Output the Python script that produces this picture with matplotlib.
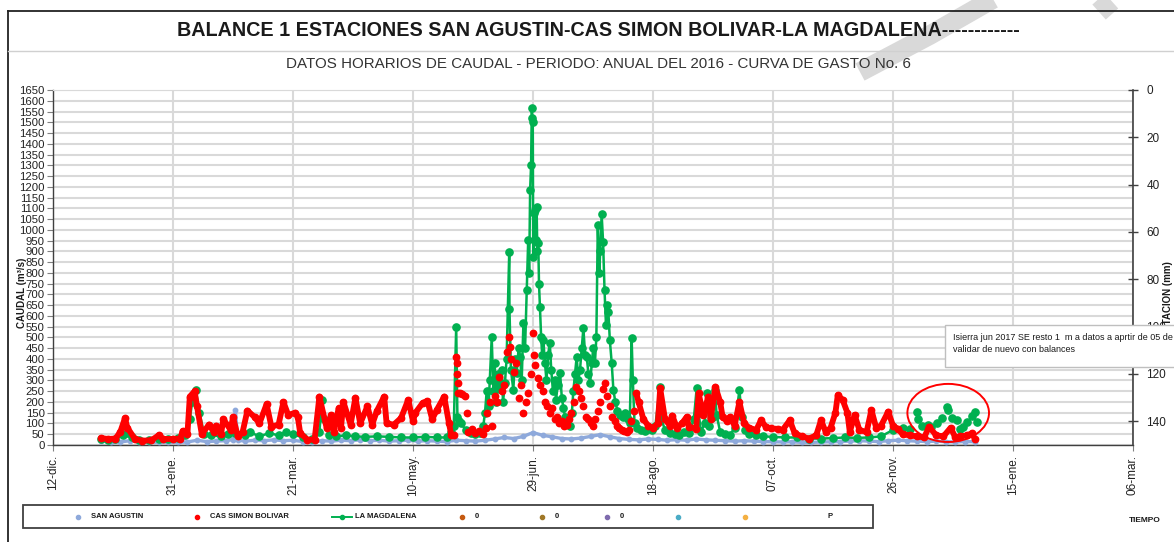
import datetime as dt

import numpy as np
import matplotlib
matplotlib.use("Agg")
import matplotlib.pyplot as plt
import matplotlib.dates as mdates
from matplotlib.lines import Line2D
from matplotlib.patches import Ellipse, Rectangle

plt.rcParams["font.family"] = ["Liberation Sans Narrow", "Liberation Sans", "DejaVu Sans"]

W, H = 1174, 542

# ---- data (day of year 2016, caudal m3/s) ----
san_agustin_day = [0, 4, 8, 12, 16, 20, 24, 28, 32, 36, 40, 44, 48, 52, 55, 56, 57, 60, 64, 68,
                   72, 76, 80, 84, 88, 92, 96, 100, 104, 108, 112, 116, 120, 124, 128, 132, 136,
                   140, 144, 148, 152, 156, 160, 164, 168, 172, 176, 180, 184, 188, 192, 196, 200,
                   204, 208, 212, 216, 220, 224, 228, 232, 236, 240, 244, 248, 252, 256, 260, 264,
                   268, 272, 276, 280, 284, 288, 292, 296, 300, 304, 308, 312, 316, 320, 324, 328,
                   332, 336, 340, 344, 348, 352, 356, 360, 364]
san_agustin_q = [18, 15, 14, 20, 14, 12, 13, 12, 12, 14, 22, 16, 18, 20, 25, 163, 22, 18, 22, 20,
                 24, 20, 22, 16, 14, 20, 18, 22, 20, 24, 20, 22, 18, 20, 22, 18, 20,
                 18, 16, 22, 20, 18, 22, 28, 35, 30, 40, 58, 45, 38, 30, 28, 32,
                 40, 48, 38, 30, 26, 24, 28, 26, 22, 25, 22, 28, 24, 22, 20, 18,
                 20, 18, 16, 15, 14, 15, 12, 12, 14, 15, 16, 18, 20, 18, 16, 20,
                 22, 20, 18, 16, 18, 15, 14, 16, 15]

bolivar_day = [0, 3, 6, 8, 10, 11, 14, 17, 21, 24, 26, 30, 33, 34, 36, 37, 39, 40, 42, 45, 47,
               48, 50, 51, 54, 55, 57, 59, 61, 64, 66, 69, 71, 74, 76, 78, 81, 82, 83, 86, 89,
               91, 94, 96, 97, 99, 100, 101, 104, 106, 108, 111, 113, 115, 118, 119, 122, 125,
               128, 130, 131, 134, 136, 138, 140, 143, 145, 146,
               147, 148.0, 148.2, 148.4, 148.6, 148.8, 149.5, 150.5, 151.5, 152.5, 153, 154.5,
               156, 157.5, 159, 160.5, 161, 162, 163, 164, 165, 166, 167, 168, 169, 170, 170.5,
               171, 172, 173, 174, 175, 176, 177, 178, 179, 180, 180.5, 181, 182, 183, 184,
               185, 186, 187, 188, 189, 190, 191, 192, 193, 194, 195, 196, 197, 198, 199, 200,
               201, 202, 203, 204, 205, 206, 207, 208, 209, 210, 211, 212, 213, 214, 215, 216,
               217, 218, 219, 220, 221, 222,
               223, 224, 226, 228, 230, 232, 233, 235, 237, 238, 240, 242, 244, 245, 248, 249,
               251, 253, 254, 256, 258, 259, 261, 262, 264, 266, 268, 270, 273, 275, 277, 279,
               282, 284, 287, 289, 292, 295, 298, 300, 302, 304, 306, 307, 309, 311, 312, 314,
               316, 319, 321, 323, 325, 328, 330, 332, 334, 337, 340, 343, 345, 348, 351, 354,
               356, 358, 361, 363, 364]
bolivar_q = [32, 28, 30, 60, 125, 80, 30, 20, 22, 45, 28, 28, 30, 65, 50, 225, 250, 180, 50, 95, 60,
             90, 50, 120, 70, 130, 40, 60, 160, 130, 100, 190, 85, 95, 200, 140, 150, 130, 55, 25, 25,
             225, 80, 140, 60, 170, 80, 200, 95, 220, 100, 180, 95, 160, 225, 100, 95, 125,
             210, 110, 150, 195, 205, 120, 165, 225, 100, 45,
             45, 410, 380, 330, 290, 240, 240, 235, 230, 150, 60, 75,
             55, 65, 50, 80, 150, 200, 90, 230, 200, 317, 250, 280, 430, 503, 455,
             400, 340, 380, 220, 280, 150, 200, 240, 330, 520, 420, 370, 310, 280, 250,
             200, 180, 150, 170, 120, 130, 100, 110, 90, 95, 120, 150, 200, 270, 250, 220,
             180, 130, 120, 100, 90, 120, 160, 200, 260, 290, 230, 180, 130, 110, 90, 80,
             70, 65, 60, 70, 110, 160,
             240, 200, 120, 90, 80, 100, 263, 120, 90, 137, 80, 100, 130, 85, 75, 240,
             140, 225, 120, 271, 200, 130, 110, 130, 90, 200, 100, 80, 70, 115, 85, 77,
             75, 70, 115, 55, 40, 30, 45, 115, 60, 80, 150, 232, 210, 150, 60, 140,
             70, 60, 163, 80, 90, 155, 90, 75, 50, 45, 40, 35, 85, 45, 40, 80,
             35, 40, 45, 55, 30]

magdalena_day = [0, 3, 6, 9, 11, 13, 16, 20, 24, 28, 32, 35, 37, 38, 39.5, 41, 43, 46, 50, 53, 56,
                 60, 62, 66, 70, 74, 77, 80, 84, 88, 91, 92, 93, 95, 98, 102, 106, 110, 115, 120,
                 125, 130, 135, 140, 144, 146,
                 147, 148, 148.5, 149, 150, 152, 154, 156, 158, 159.3, 160, 160.7, 161.5, 162,
                 162.8, 163.5, 164, 164.7, 165.5, 166, 167, 167.5, 168.3, 169, 170.1, 170.2, 170.8,
                 171.8, 172.5, 173.2, 174, 174.6, 175.3, 176, 176.7, 177.4, 178, 178.4, 178.8,
                 179.2, 179.5, 179.7, 179.9, 180.1, 180.4, 180.8, 181.1, 181.5, 181.8, 182.2,
                 182.5, 182.9, 183.4, 183.8, 184.3, 185, 185.6, 186.3, 187, 187.6, 188.3, 189,
                 189.6, 190.3, 191.3, 192, 192.7, 193.4, 194, 194.7, 195.5, 196.2, 196.8, 197.5,
                 198.2, 198.9, 199.6, 200.3, 201, 201.7, 202.4, 203.1, 203.8, 204.5, 205.1, 205.8,
                 206.4, 207, 207.6, 208, 208.6, 209.2, 209.8, 210.4, 211, 211.4, 212, 212.8,
                 213.5, 214.3, 215.2, 216.3, 217.5, 218.5, 219.5, 220.3, 221.1, 221.6, 222.3,
                 223.5, 225, 226.5, 228, 229.5, 231, 232.9, 233.5, 235, 237, 239, 241, 243, 245,
                 247, 248.2, 249, 250, 251.5, 252.5, 253.5, 255, 255.8, 256.5, 258, 260, 262, 264,
                 266, 267, 268.5, 270, 273, 276, 280, 285, 290, 295, 300, 305, 310, 315, 320, 325,
                 330,
                 334, 337, 340, 340.5, 342, 344.7, 346, 348.2, 350.3, 352.4, 353, 354.4, 356.5,
                 357.9, 359, 360.7, 362.8, 364.2, 364.9]
magdalena_q = [28, 25, 28, 45, 55, 35, 25, 25, 28, 30, 32, 45, 120, 200, 255, 150, 50, 45, 40, 50, 55,
               45, 60, 40, 55, 45, 60, 50, 35, 28, 60, 210, 120, 45, 40, 45, 40, 38, 40, 38,
               35, 35, 38, 35, 35, 60,
               90, 550, 130, 110, 100, 70, 55, 50, 55, 90, 150, 250, 180, 300,
               500, 250, 380, 200, 330, 260, 350, 200, 287, 400, 898, 630, 350,
               256, 400, 333, 450, 410, 300, 565, 450, 720, 953, 800, 1185,
               1300, 1565, 1522, 1500, 875, 1077, 1090, 953, 1107, 900, 937,
               750, 643, 500, 420, 488, 380, 300, 420, 475, 350, 250, 300,
               210, 280, 333, 220, 170, 130, 100, 120, 90, 150, 250, 330,
               410, 300, 350, 450, 543, 420, 410, 330, 287, 380, 450, 380,
               500, 1022, 800, 900, 1073, 945, 720, 560, 650, 620, 490, 380,
               256, 200, 160, 140, 130, 150, 120, 100, 496, 300, 100,
               80, 70, 65, 75, 70, 90, 271, 120, 70, 55, 50, 45, 60, 55,
               120, 263, 150, 60, 100, 240, 90, 130, 255, 140, 60, 50, 45, 80,
               255, 130, 70, 50, 45, 40, 38, 35, 35, 30, 30, 32, 35, 33, 35, 40,
               70,
               80, 75, 155, 120, 90, 95, 85, 100, 124, 178, 163, 124, 115,
               75, 85, 105, 133, 155, 105]

x_tick_labels = ["12-dic.", "31-ene.", "21-mar.", "10-may.", "29-jun.", "18-ago.",
                 "07-oct.", "26-nov.", "15-ene.", "06-mar."]
legend_labels = ["SAN AGUSTIN", "CAS SIMON BOLIVAR", "LA MAGDALENA", "0", "0", "0", "", "", "P"]

# ---- colours ----
C_SA = "#8EA9DB"
C_BOL = "#FF0000"
C_MAG = "#00B050"
GRID = "#D9D9D9"


def fx(x):
    return x / W


def fy(y):
    return 1 - y / H


t0 = dt.datetime(2016, 1, 1)


def to_dates(days):
    return [t0 + dt.timedelta(days=float(d)) for d in days]


fig = plt.figure(figsize=(W / 100, H / 100), dpi=100)
fig.patch.set_facecolor("white")

ax = fig.add_axes([fx(53), fy(445), fx(1133) - fx(53), fy(90) - fy(445)])
ax.set_zorder(2)
ax.patch.set_alpha(0)

sa_x = to_dates(san_agustin_day)
bol_day = np.array(bolivar_day, dtype=float)
bol_q = np.array(bolivar_q, dtype=float)
mag_day = np.array(magdalena_day, dtype=float)
mag_q = np.array(magdalena_q, dtype=float)

# San Agustin: dense hourly points at the bottom
ax.plot(sa_x, san_agustin_q, color=C_SA, lw=2.4, zorder=3, solid_capstyle="round")
ax.plot(sa_x, san_agustin_q, ls="none", marker="o", ms=3.2, color=C_SA, zorder=3)

# Simon Bolivar: hourly dots, continuous band except where the record is sparse
bol_band = np.where((bol_day < 146.5) | (bol_day > 222.5), bol_q, np.nan)
ax.plot(to_dates(bol_day), bol_band, color=C_BOL, lw=4.2, zorder=5, solid_joinstyle="round",
        solid_capstyle="round")
ax.plot(to_dates(bol_day), bol_q, ls="none", marker="o", ms=4.6, color=C_BOL, zorder=5)

# La Magdalena: line with markers; December values only as points
mag_line = np.where(mag_day <= 330, mag_q, np.nan)
ax.plot(to_dates(mag_day), mag_line, color=C_MAG, lw=1.8, zorder=4)
ax.plot(to_dates(mag_day), mag_q, ls="none", marker="o", ms=5.2, color=C_MAG, zorder=4)

x_start = dt.datetime(2015, 12, 12)
ticks = [x_start + dt.timedelta(days=50 * i) for i in range(len(x_tick_labels))]
ax.set_xlim(ticks[0], ticks[-1])
ax.set_xticks(ticks)
ax.set_xticklabels(x_tick_labels, rotation=90, fontsize=8.5, color="#222222",
                   family=["Liberation Sans", "DejaVu Sans"])
ax.set_ylim(0, 1650)
ax.set_yticks(np.arange(0, 1651, 50))
ax.set_yticklabels([str(v) for v in range(0, 1651, 50)], fontsize=8.2, color="#222222",
                   family=["Liberation Sans", "DejaVu Sans"])
ax.tick_params(axis="y", direction="out", length=4, width=0.8, color="#808080", pad=2)
ax.tick_params(axis="x", direction="out", length=4, width=0.8, color="#808080", pad=3)

ax.grid(True, axis="both", color=GRID, lw=1.5, zorder=0)
ax.set_axisbelow(True)
for side in ["left", "bottom"]:
    ax.spines[side].set_color("#404040")
    ax.spines[side].set_linewidth(1.0)
ax.spines["top"].set_color(GRID)
ax.spines["right"].set_visible(False)

ax2 = ax.twinx()
ax2.set_ylim(150, 0)
ax2.set_yticks(np.arange(0, 141, 20))
ax2.set_yticklabels([str(v) for v in range(0, 141, 20)], fontsize=8.5, color="#222222",
                    family=["Liberation Sans", "DejaVu Sans"])
ax2.tick_params(axis="y", direction="inout", length=7, width=1.0, color="#404040", pad=6)
for side in ["left", "bottom", "top"]:
    ax2.spines[side].set_visible(False)
ax2.spines["right"].set_color("#404040")
ax2.spines["right"].set_linewidth(1.2)

# red ellipse around the unvalidated December data
ax.add_patch(Ellipse((mdates.date2num(t0 + dt.timedelta(days=353)), 149), width=34, height=270,
                     fill=False, edgecolor="#FF0000", lw=1.4, zorder=6, clip_on=False))

# ---- titles, frame ----
fig.add_artist(Line2D([fx(8), 1], [fy(11), fy(11)], color="#222222", lw=1.3))
fig.add_artist(Line2D([fx(8), fx(8)], [0, fy(11)], color="#222222", lw=1.3))
fig.add_artist(Line2D([fx(8), 1], [fy(51), fy(51)], color="#D0D0D0", lw=1.0))
fig.text(fx(598), fy(31), "BALANCE 1 ESTACIONES SAN AGUSTIN-CAS SIMON BOLIVAR-LA MAGDALENA------------",
         ha="center", va="center", fontsize=14.2, fontweight="bold", color="#1a1a1a",
         family=["Liberation Sans", "DejaVu Sans"])
fig.text(fx(598), fy(64), "DATOS HORARIOS DE CAUDAL - PERIODO: ANUAL DEL 2016 - CURVA DE GASTO No. 6",
         ha="center", va="center", fontsize=10.9, color="#333333",
         family=["Liberation Sans", "DejaVu Sans"])

# faint watermark strokes
fig.add_artist(Line2D([fx(1000), fx(930), fx(860)], [fy(-5), fy(35), fy(72)], color="#D9D9D9",
                      lw=14, solid_capstyle="butt", zorder=1))
fig.add_artist(Line2D([fx(1095), fx(1112)], [fy(-5), fy(14)], color="#D9D9D9",
                      lw=12, solid_capstyle="butt", zorder=1))

fig.text(fx(22), fy(293), "CAUDAL (m³/s)", rotation=90, ha="center", va="center",
         fontsize=7, fontweight="bold", color="#1a1a1a", zorder=3)
fig.text(fx(1168), fy(312), "PRECIPITACION (mm)", rotation=90, ha="center", va="center",
         fontsize=7, fontweight="bold", color="#1a1a1a", zorder=3)

# note box
fig.add_artist(Rectangle((fx(945), fy(367)), 1.0, fy(325) - fy(367), facecolor="white",
                         edgecolor="#BFBFBF", lw=1.0, zorder=8))
fig.text(fx(953), fy(337), "Isierra jun 2017 SE resto 1  m a datos a aprtir de 05 de", ha="left",
         va="center", fontsize=6.5, color="#1a1a1a", zorder=9)
fig.text(fx(953), fy(349), "validar de nuevo con balances", ha="left", va="center",
         fontsize=6.5, color="#1a1a1a", zorder=9)

# ---- legend ----
fig.add_artist(Rectangle((fx(23), fy(528)), fx(873) - fx(23), fy(505) - fy(528), facecolor="white",
                         edgecolor="#404040", lw=1.3, zorder=3))
leg_y = fy(517)
leg_style = [
    dict(x=78, color=C_SA, line=False),
    dict(x=197, color=C_BOL, line=False),
    dict(x=342, color=C_MAG, line=True),
    dict(x=462, color="#C55A11", line=False),
    dict(x=542, color="#A07828", line=False),
    dict(x=607, color="#7F6BAE", line=False),
    dict(x=678, color="#4BACC6", line=False),
    dict(x=745, color="#F4B042", line=False),
    dict(x=815, color=None, line=False),
]
for lab, st in zip(legend_labels, leg_style):
    if st["color"] is not None:
        if st["line"]:
            fig.add_artist(Line2D([fx(st["x"] - 10), fx(st["x"] + 10)], [leg_y, leg_y],
                                  color=st["color"], lw=1.4, zorder=4))
        fig.add_artist(Line2D([fx(st["x"])], [leg_y], ls="none", marker="o", ms=3,
                              color=st["color"], zorder=4))
    if lab:
        fig.text(fx(st["x"] + 13), leg_y, lab, ha="left", va="center", fontsize=5.5,
                 fontweight="bold", color="#1a1a1a", zorder=4)

fig.text(fx(1145), fy(520), "TIEMPO", ha="center", va="center", fontsize=6,
         fontweight="bold", color="#1a1a1a")

fig.savefig("out.png", dpi=100, facecolor="white")
